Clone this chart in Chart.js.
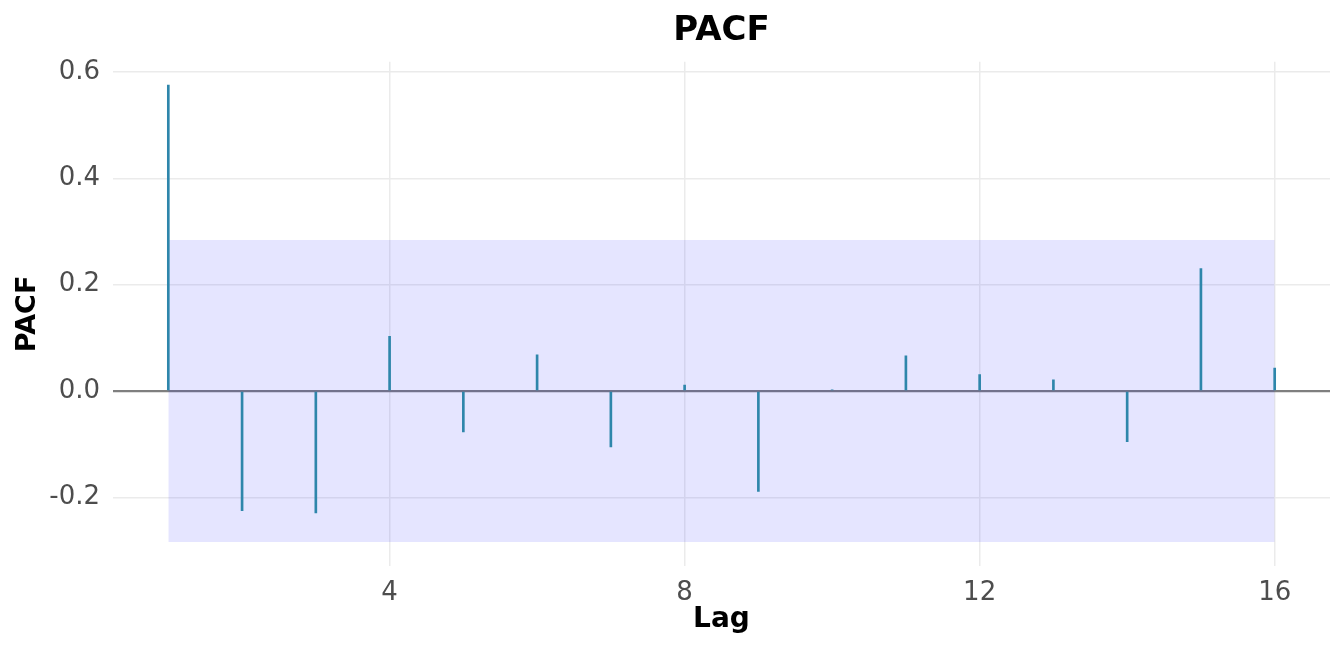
<!DOCTYPE html>
<html>
<head>
<meta charset="utf-8">
<script src="https://cdn.jsdelivr.net/npm/chart.js@4/dist/chart.umd.min.js"></script>
<style>
  html, body { margin: 0; padding: 0; background: #fff; }
  #wrap { width: 1344px; height: 652px; }
</style>
</head>
<body>
<div id="wrap"><canvas id="chart" width="1344" height="652"></canvas></div>
<script>
const lags = [1, 2, 3, 4, 5, 6, 7, 8, 9, 10, 11, 12, 13, 14, 15, 16];
const pacfValues = [0.575, -0.225, -0.229, 0.103, -0.077, 0.068, -0.105, 0.011,
  -0.189, 0.002, 0.066, 0.031, 0.021, -0.095, 0.230, 0.043];
const ciBound = 0.284;
const xTicks = [4, 8, 12, 16];
const yTicks = [-0.2, 0.0, 0.2, 0.4, 0.6];

const stems = lags.map((lag, i) => ({ x: lag, y: pacfValues[i] }));
const bandUpper = [{ x: lags[0], y: ciBound }, { x: lags[lags.length - 1], y: ciBound }];
const bandLower = [{ x: lags[0], y: -ciBound }, { x: lags[lags.length - 1], y: -ciBound }];

const font = "'DejaVu Sans', sans-serif";

new Chart(document.getElementById("chart").getContext("2d"), {
  type: "bar",
  data: {
    datasets: [
      {
        type: "bar",
        data: stems,
        backgroundColor: "#2E86AB",
        barThickness: 2,
        order: 0
      },
      {
        type: "line",
        data: bandUpper,
        borderWidth: 0,
        pointRadius: 0,
        backgroundColor: "rgba(0,0,255,0.1)",
        fill: "+1",
        order: 1
      },
      {
        type: "line",
        data: bandLower,
        borderWidth: 0,
        pointRadius: 0,
        fill: false,
        order: 2
      }
    ]
  },
  options: {
    responsive: false,
    animation: false,
    layout: { padding: { left: 0, right: 14, top: 0, bottom: 0 } },
    plugins: {
      legend: { display: false },
      tooltip: { enabled: false },
      title: {
        display: true,
        fullSize: false,
        text: "PACF",
        color: "#000",
        font: { family: font, size: 34, weight: "bold" },
        padding: { top: 11, bottom: 10 }
      }
    },
    scales: {
      x: {
        type: "linear",
        min: 0.25,
        max: 16.75,
        offset: false,
        afterBuildTicks: (s) => { s.ticks = xTicks.map(v => ({ value: v })); },
        afterFit: (s) => { s.height = 86; s.paddingLeft = 0; s.paddingRight = 0; },
        border: { display: false },
        grid: { color: "#EBEBEB", lineWidth: 1.5, drawTicks: false, offset: false },
        ticks: {
          color: "#4D4D4D",
          font: { family: font, size: 26 },
          padding: 12,
          maxRotation: 0,
          callback: (v) => String(v)
        },
        title: {
          display: true,
          text: "Lag",
          color: "#000",
          font: { family: font, size: 28, weight: "bold" },
          padding: { top: 0, bottom: 15 }
        }
      },
      y: {
        min: -0.329,
        max: 0.619,
        afterBuildTicks: (s) => { s.ticks = yTicks.map(v => ({ value: v })); },
        afterFit: (s) => { s.width = 113; s.paddingTop = 0; s.paddingBottom = 0; },
        border: { display: false },
        grid: {
          drawTicks: false,
          color: (c) => (c.tick && c.tick.value === 0 ? "#7F7F7F" : "#EBEBEB"),
          lineWidth: (c) => (c.tick && c.tick.value === 0 ? 2.2 : 1.5)
        },
        ticks: {
          color: "#4D4D4D",
          font: { family: font, size: 26 },
          padding: 13,
          callback: (v) => v.toFixed(1)
        },
        title: {
          display: true,
          text: "PACF",
          color: "#000",
          font: { family: font, size: 27, weight: "bold" },
          padding: { top: 12, bottom: 0 }
        }
      }
    }
  }
});
</script>
</body>
</html>
